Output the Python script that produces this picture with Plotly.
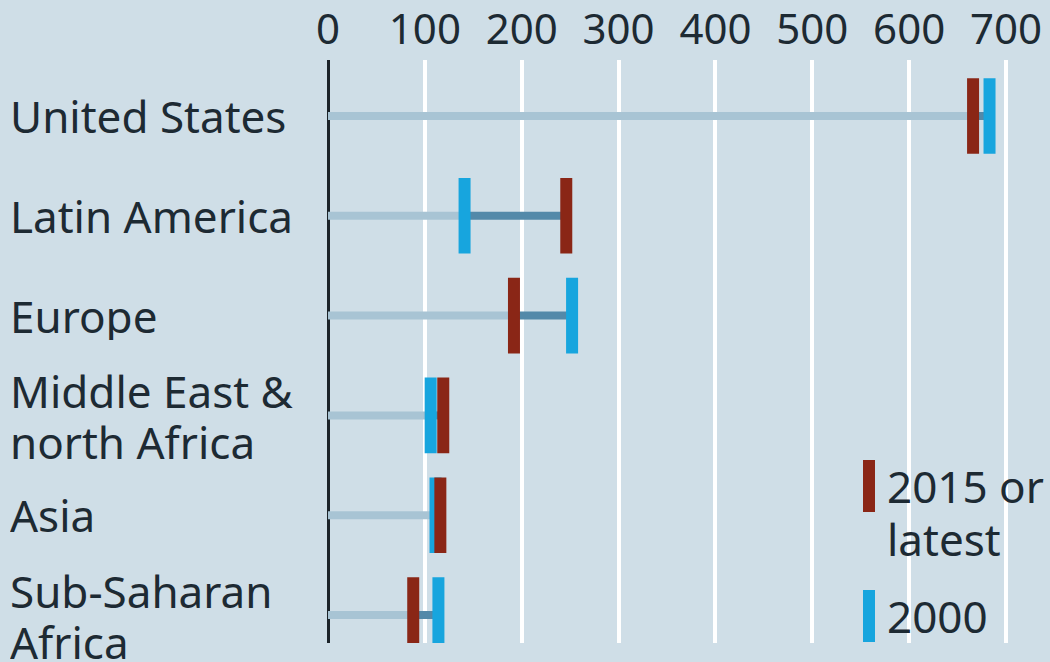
import plotly.graph_objects as go

# ---- data ----
regions = ["United States", "Latin America", "Europe", "Middle East &<br>north Africa", "Asia", "Sub-Saharan<br>Africa"]
val_2015 = [666, 246, 192, 119, 116, 88]
val_2000 = [683, 141, 252, 106, 111, 114]
tick_vals = [0, 100, 200, 300, 400, 500, 600, 700]
tick_text = ["0", "100", "200", "300", "400", "500", "600", "700"]
legend_labels = ["2015 or<br>latest", "2000"]

BG = "#cfdee7"
RED = "#8a2616"
CYAN = "#17a5de"
LIGHT = "#a8c4d4"
DARK = "#5389a9"
TXT = "#1d2a33"
FONT = "Noto Sans"

W, H = 1050, 662
T, B = 60, 19
plot_h = H - T - B

ypos = list(range(len(regions)))

fig = go.Figure()

# light line from 0 to the smaller value, dark segment between the two values
lx, ly, dx, dy = [], [], [], []
for i, (a, b) in enumerate(zip(val_2015, val_2000)):
    lo, hi = min(a, b), max(a, b)
    lx += [0, lo, None]
    ly += [i, i, None]
    dx += [lo, hi, None]
    dy += [i, i, None]

fig.add_trace(go.Scatter(x=lx, y=ly, mode="lines", line=dict(color=LIGHT, width=8),
                         hoverinfo="skip", showlegend=False))
fig.add_trace(go.Scatter(x=dx, y=dy, mode="lines", line=dict(color=DARK, width=8),
                         hoverinfo="skip", showlegend=False))
fig.add_trace(go.Scatter(x=val_2000, y=ypos, mode="markers", name="2000",
                         marker=dict(symbol="line-ns", size=54,
                                     line=dict(color=CYAN, width=12)),
                         showlegend=False))
fig.add_trace(go.Scatter(x=val_2015, y=ypos, mode="markers", name="2015 or latest",
                         marker=dict(symbol="line-ns", size=54,
                                     line=dict(color=RED, width=12)),
                         showlegend=False))

annotations = []
LINE_BOX = 48
# category labels (multi-line labels split into separate lines)
for i, lab in enumerate(regions):
    lines = lab.split("<br>")
    if len(lines) == 1:
        offs = [0]
    else:
        offs = [24, -27]
    for line, off in zip(lines, offs):
        annotations.append(dict(x=8 / W, xref="paper", y=i, yref="y", yshift=off,
                                text=line, showarrow=False, xanchor="left", yanchor="middle",
                                height=LINE_BOX, valign="middle",
                                font=dict(family=FONT, size=44, color=TXT)))

# legend
def py2paper(py):
    return (H - B - py) / plot_h

shapes = []
leg_items = [(legend_labels[0], RED, 486, [486, 539]), (legend_labels[1], CYAN, 616, [616])]
for lab, col, cy, tys in leg_items:
    shapes.append(dict(type="rect", xref="paper", yref="paper",
                       x0=863 / W, x1=875 / W, y0=py2paper(cy + 26), y1=py2paper(cy - 26),
                       fillcolor=col, line=dict(width=0), layer="above"))
    for line, ty in zip(lab.split("<br>"), tys):
        annotations.append(dict(x=885 / W, xref="paper", y=py2paper(ty), yref="paper",
                                text=line, showarrow=False, xanchor="left", yanchor="middle",
                                height=LINE_BOX, valign="middle",
                                font=dict(family=FONT, size=44, color=TXT)))

px_per = (1006 - 328) / 700.0
xr = [-328 / px_per, (W - 328) / px_per]
row_px = 99.8
yr = [len(regions) - 1 + 28 / row_px, -56 / row_px]

fig.update_layout(
    width=W, height=H,
    margin=dict(l=0, r=0, t=T, b=B),
    paper_bgcolor=BG, plot_bgcolor=BG,
    xaxis=dict(range=xr, side="top", tickvals=tick_vals, ticktext=tick_text,
               showgrid=True, gridcolor="white", gridwidth=4,
               zeroline=True, zerolinecolor="#1b2329", zerolinewidth=2.5,
               showline=False, ticks="", fixedrange=True, ticklabelstandoff=7,
               tickfont=dict(family=FONT, size=42, color=TXT)),
    yaxis=dict(range=yr, showgrid=False, zeroline=False, showticklabels=False,
               showline=False, ticks="", fixedrange=True),
    annotations=annotations,
    shapes=shapes,
    showlegend=False,
)

fig.write_html("out.html")
